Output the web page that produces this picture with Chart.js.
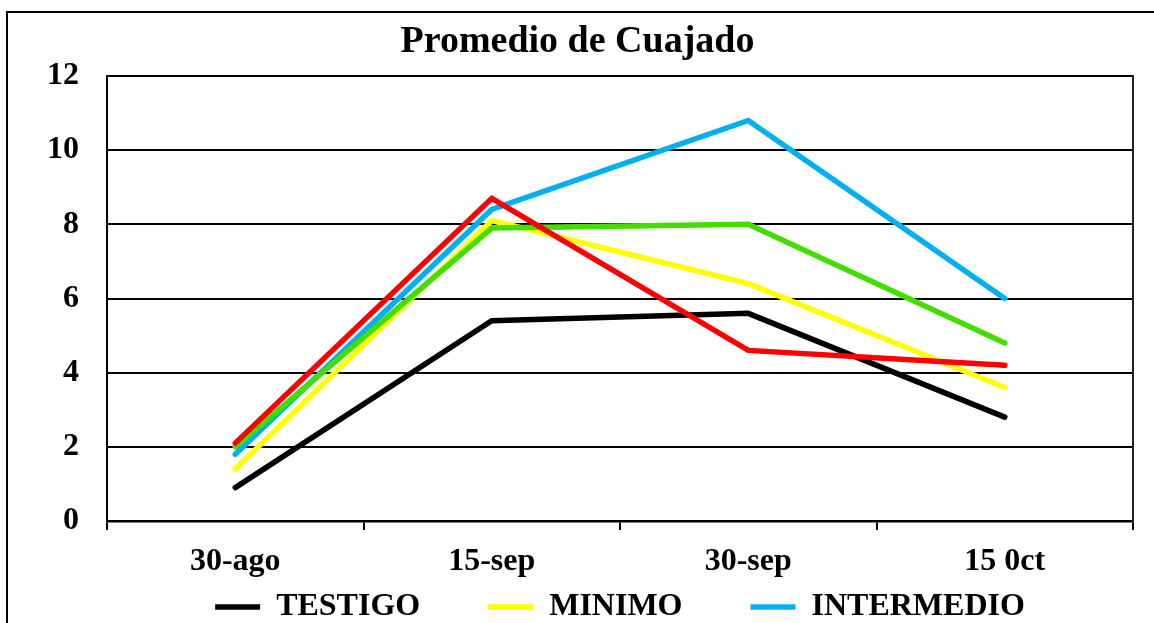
<!DOCTYPE html>
<html>
<head>
<meta charset="utf-8">
<script src="https://cdn.jsdelivr.net/npm/chart.js@4/dist/chart.umd.min.js"></script>
<style>
html,body{margin:0;padding:0;background:#fff;overflow:hidden;}
#frame{position:absolute;left:6px;top:11px;width:1400px;height:800px;border-left:2px solid #000;border-top:2px solid #000;box-sizing:border-box;}
#wrap{position:absolute;left:0;top:0;width:1154px;height:623px;}
</style>
</head>
<body>
<div id="frame"></div>
<div id="wrap"><canvas id="c"></canvas></div>
<script>
const titleText = 'Promedio de Cuajado';
const categories = ['30-ago', '15-sep', '30-sep', '15 0ct'];
const seriesNames = ['TESTIGO', 'MINIMO', 'INTERMEDIO', 'MAXIMO', 'ALTO'];
const testigo = [0.9, 5.4, 5.6, 2.8];
const minimo = [1.4, 8.1, 6.4, 3.6];
const intermedio = [1.8, 8.4, 10.8, 6.0];
const maximo = [2.0, 7.9, 8.0, 4.8];
const alto = [2.1, 8.7, 4.6, 4.2];
const yMin = 0, yMax = 12, yStep = 2;

const colors = ['#000000', '#FFFF00', '#00B0F0', '#44DD00', '#FF0000'];
const values = [testigo, minimo, intermedio, maximo, alto];
const FONT = "'Liberation Serif', 'Times New Roman', serif";

const datasets = values.map((v, i) => ({
  label: seriesNames[i],
  data: v,
  borderColor: colors[i],
  backgroundColor: colors[i],
  borderWidth: 5.5,
  borderCapStyle: 'round',
  borderJoinStyle: 'miter',
  pointRadius: 0,
  pointHoverRadius: 0,
  tension: 0,
  fill: false,
  order: values.length - i
}));

new Chart(document.getElementById('c'), {
  type: 'line',
  data: { labels: categories, datasets },
  options: {
    responsive: true,
    maintainAspectRatio: false,
    animation: false,
    layout: { padding: { top: 19, left: 22, right: 21, bottom: 0 } },
    plugins: {
      title: {
        display: true,
        text: titleText,
        color: '#000',
        font: { family: FONT, size: 38, weight: 'bold', lineHeight: 1.2 },
        padding: { top: 0, bottom: 11.4 }
      },
      legend: {
        display: true,
        position: 'bottom',
        fullSize: false,
        maxHeight: 41.6,
        title: { display: true, text: '', font: { size: 1, lineHeight: 1 }, padding: { top: -59.4, bottom: 0 } },
        labels: {
          color: '#000',
          font: { family: FONT, size: 32, weight: 'bold' },
          usePointStyle: true,
          pointStyle: 'line',
          pointStyleWidth: 45,
          padding: 68,
          sort: (a, b) => a.datasetIndex - b.datasetIndex
        }
      },
      tooltip: { enabled: false }
    },
    scales: {
      x: {
        type: 'category',
        offset: true,
        afterFit: (s) => { s.height = 60.4; },
        grid: { offset: true, drawOnChartArea: false, drawTicks: true, tickLength: 9, color: '#000', lineWidth: 2 },
        border: { display: true, color: '#000', width: 2.5 },
        ticks: { color: '#000', padding: 13, font: { family: FONT, size: 32, weight: 'bold', lineHeight: 1.2 }, maxRotation: 0, autoSkip: false }
      },
      y: {
        position: 'left',
        min: yMin,
        max: yMax,
        afterFit: (s) => { s.width = 85; },
        grid: { color: '#000', lineWidth: 2, drawTicks: false },
        border: { display: true, color: '#000', width: 2 },
        ticks: { stepSize: yStep, color: '#000', padding: 28, font: { family: FONT, size: 32, weight: 'bold', lineHeight: 1.2 } }
      },
      yRight: {
        position: 'right',
        display: true,
        min: yMin,
        max: yMax,
        afterFit: (s) => { s.width = 0; },
        grid: { drawOnChartArea: false, drawTicks: false },
        border: { display: true, color: '#222', width: 2 },
        ticks: { display: false }
      }
    }
  }
});
</script>
</body>
</html>
